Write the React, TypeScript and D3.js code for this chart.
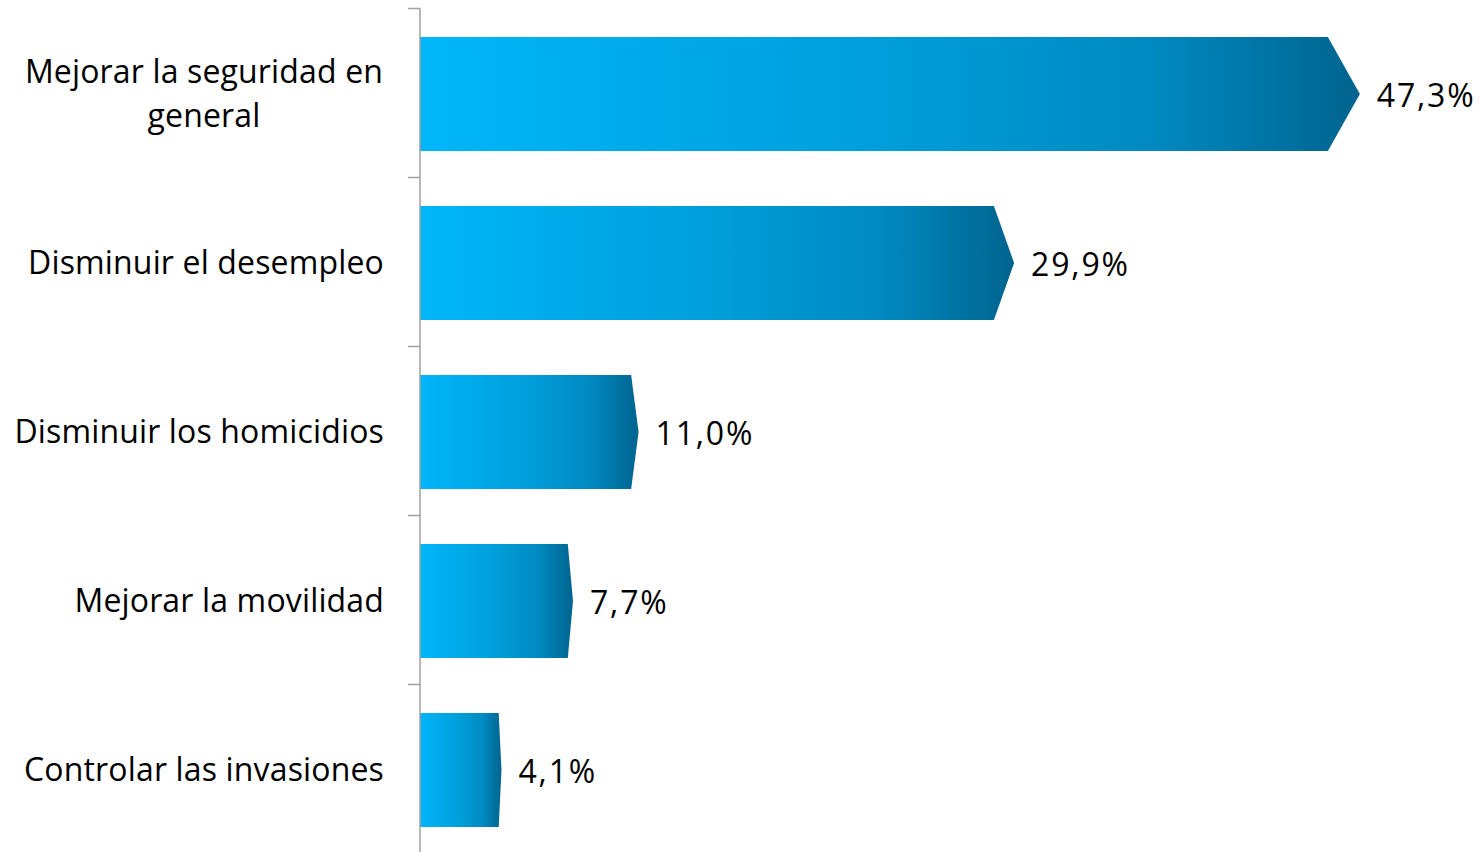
import * as d3 from "d3";

const categories = [
  ["Mejorar la seguridad en", "general"],
  ["Disminuir el desempleo"],
  ["Disminuir los homicidios"],
  ["Mejorar la movilidad"],
  ["Controlar las invasiones"],
];
const values = [47.3, 29.9, 11.0, 7.7, 4.1];
const valueLabels = ["47,3%", "29,9%", "11,0%", "7,7%", "4,1%"];

const W = 1483;
const H = 852;
const axisX = 420;
const font = "'Open Sans', Lato, sans-serif";

const stops = [
  [0, "#00b6f9"],
  [0.22, "#00abeb"],
  [0.48, "#009fdb"],
  [0.78, "#0089c0"],
  [1, "#00648e"],
];

export default function App() {
  const x = d3.scaleLinear().domain([0, 50]).range([axisX, axisX + 993.5]);
  const y = d3
    .scaleBand<number>()
    .domain(d3.range(values.length))
    .range([9.5, 854.5])
    .paddingInner(0.325)
    .paddingOuter(0.1625);
  const step = y.step();
  const ticks = d3.range(values.length + 1).map((i) => 8.5 + i * step);

  return (
    <div style={{ position: "fixed", left: 0, top: 0, width: W, height: H, background: "#fff" }}>
      <svg width={W} height={H} style={{ display: "block" }}>
        <defs>
          {values.map((_, i) => (
            <linearGradient key={i} id={`g${i}`} x1="0" x2="1" y1="0" y2="0">
              {stops.map(([o, c]) => (
                <stop key={o} offset={o} stopColor={c as string} />
              ))}
            </linearGradient>
          ))}
        </defs>
        {values.map((v, i) => {
          const x0 = x(0);
          const tip = x(v);
          const flat = tip - 0.034 * (tip - x0);
          const y0 = y(i)!;
          const y1 = y0 + y.bandwidth();
          const yc = y0 + y.bandwidth() / 2;
          const p = d3.path();
          p.moveTo(x0, y0);
          p.lineTo(flat, y0);
          p.lineTo(tip, yc);
          p.lineTo(flat, y1);
          p.lineTo(x0, y1);
          p.closePath();
          return <path key={i} d={p.toString()} fill={`url(#g${i})`} />;
        })}
        <line x1={axisX} x2={axisX} y1={ticks[0]} y2={H} stroke="#a0a0a0" strokeWidth={1.5} />
        {ticks.map((t, i) => (
          <line key={i} x1={axisX - 12} x2={axisX} y1={t} y2={t} stroke="#a0a0a0" strokeWidth={1.5} />
        ))}
        {categories.map((lines, i) => {
          const yc = y(i)! + y.bandwidth() / 2;
          const lh = 44;
          const start = yc - ((lines.length - 1) * lh) / 2;
          const multi = lines.length > 1;
          return (
            <text
              key={i}
              fontFamily={font}
              fontSize={32}
              letterSpacing={0.15}
              fill="#000"
              textAnchor={multi ? "middle" : "end"}
            >
              {lines.map((l, j) => (
                <tspan key={j} x={multi ? 204 : 384} y={start + j * lh} dy="0.35em">
                  {l}
                </tspan>
              ))}
            </text>
          );
        })}
        {values.map((v, i) => (
          <text
            key={i}
            x={x(v) + 17}
            y={y(i)! + y.bandwidth() / 2 + 1.5}
            dy="0.35em"
            fontFamily={font}
            fontSize={32}
            letterSpacing={1.8}
            fill="#000"
          >
            {valueLabels[i]}
          </text>
        ))}
      </svg>
    </div>
  );
}
